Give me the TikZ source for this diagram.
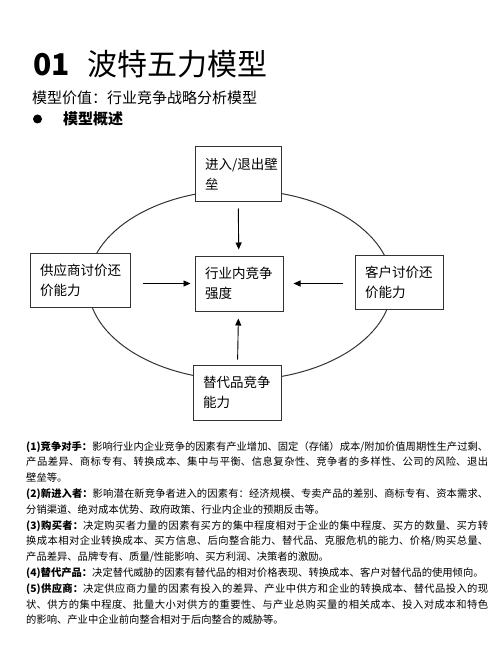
\documentclass[tikz,border=0pt]{standalone}
\usepackage{fontspec}
\setmainfont{Noto Sans CJK SC}
\usetikzlibrary{arrows.meta, positioning}
\newcommand{\cjkwrap}{\XeTeXlinebreaklocale "zh"\XeTeXlinebreakskip=0pt plus 1pt\relax}
\definecolor{edge}{HTML}{333333}
\tikzset{
  forcebox/.style={draw=edge, line width=1pt, fill=white, rectangle, align=left,
    minimum height=55pt, inner xsep=10pt, inner ysep=0pt,
    font=\fontsize{13.5}{20}\selectfont},
  push/.style={-{Triangle[length=7pt, width=6pt]}, line width=0.9pt, black},
  note/.style={anchor=north west, inner sep=0pt, text width=462pt, align=justify,
    font=\fontsize{10.3}{15.8}\selectfont\cjkwrap}
}

\begin{document}
\begin{tikzpicture}[x=1pt, y=-1pt]
  \useasboundingbox (0,0) rectangle (500,652);
  % Heading
  \node[anchor=west, inner sep=0pt, font=\fontsize{30}{36}\selectfont] (title) at (33,64)
    {\textbf{01}\hspace{18pt}波特五力模型};
  \node[anchor=west, inner sep=0pt, font=\fontsize{15}{18}\selectfont] (value) at (32,98)
    {模型价值：行业竞争战略分析模型};
  \node[circle, fill=black, inner sep=0pt, minimum size=9pt] (dot) at (37.5,119) {};
  \node[anchor=west, inner sep=0pt, font=\fontsize{15}{18}\selectfont\bfseries] (overview) at (63,119)
    {模型概述};
  % Ring behind the boxes
  \draw[edge, line width=1pt] (240,285) ellipse [x radius=152pt, y radius=95pt];
  % Five forces
  \node[forcebox, text width=66pt] (entry) at (238,174.5) {进入/退出壁\\垒};
  \node[forcebox, text width=68pt] (rivalry) at (239,283.5) {行业内竞争\\强度};
  \node[forcebox, text width=80pt, minimum height=54pt] (supplier) at (80,280) {供应商讨价还\\价能力};
  \node[forcebox, text width=68pt, minimum height=54pt] (buyer) at (399,282) {客户讨价还\\价能力};
  \node[forcebox, text width=68pt] (substitute) at (237,392.5) {替代品竞争\\能力};
  % Arrows into the centre
  \draw[push, shorten <=6pt, shorten >=6pt] (entry) -- (rivalry);
  \draw[push, shorten <=12pt, shorten >=4pt] (supplier.east |- rivalry) -- (rivalry);
  \draw[push, shorten <=12pt, shorten >=10pt] (buyer.west |- rivalry) -- (rivalry);
  \draw[push, shorten <=5pt, shorten >=7pt] (substitute) -- (rivalry);
  % Notes
  \node[note] (notes) at (26,441) {%
    \textbf{(1)竞争对手：}影响行业内企业竞争的因素有产业增加、固定（存储）成本/附加价值周期性生产过剩、\linebreak
    产品差异、商标专有、转换成本、集中与平衡、信息复杂性、竞争者的多样性、公司的风险、退出\linebreak
    壁垒等。\par
    \textbf{(2)新进入者：}影响潜在新竞争者进入的因素有：经济规模、专卖产品的差别、商标专有、资本需求、\linebreak
    分销渠道、绝对成本优势、政府政策、行业内企业的预期反击等。\par
    \textbf{(3)购买者：}决定购买者力量的因素有买方的集中程度相对于企业的集中程度、买方的数量、买方转\linebreak
    换成本相对企业转换成本、买方信息、后向整合能力、替代品、克服危机的能力、价格/购买总量、\linebreak
    产品差异、品牌专有、质量/性能影响、买方利润、决策者的激励。\par
    \textbf{(4)替代产品：}决定替代威胁的因素有替代品的相对价格表现、转换成本、客户对替代品的使用倾向。\par
    \textbf{(5)供应商：}决定供应商力量的因素有投入的差异、产业中供方和企业的转换成本、替代品投入的现\linebreak
    状、供方的集中程度、批量大小对供方的重要性、与产业总购买量的相关成本、投入对成本和特色\linebreak
    的影响、产业中企业前向整合相对于后向整合的威胁等。};
\end{tikzpicture}
\end{document}
